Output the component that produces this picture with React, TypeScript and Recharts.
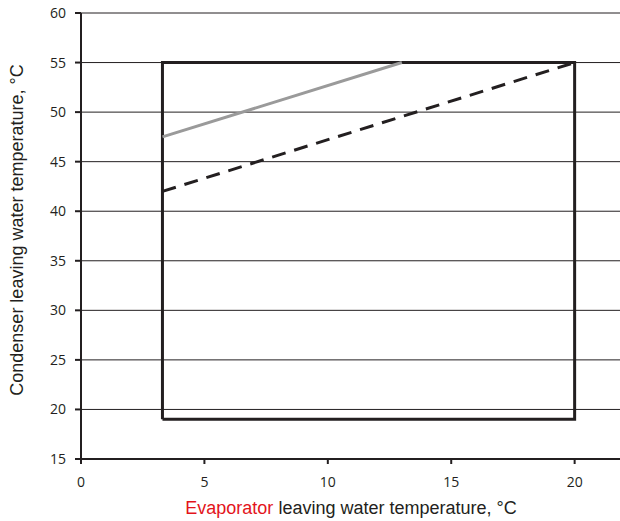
import React from "react";
import {
  ComposedChart,
  Line,
  XAxis,
  YAxis,
  CartesianGrid,
} from "recharts";

// operating envelope (closed outline)
const envelopeX = [3.3, 3.3, 20, 20, 3.3];
const envelopeY = [19, 55, 55, 19, 19];

// grey limit line
const greyX = [3.3, 13];
const greyY = [47.5, 55];

// dashed limit line
const dashedX = [3.3, 20];
const dashedY = [42, 55];

const xTicks = [0, 5, 10, 15, 20];
const yTicks = [15, 20, 25, 30, 35, 40, 45, 50, 55, 60];

const toPoints = (xs: number[], ys: number[]) =>
  xs.map((x, i) => ({ x, y: ys[i] }));

const envelope = toPoints(envelopeX, envelopeY);
const grey = toPoints(greyX, greyY);
const dashed = toPoints(dashedX, dashedY);

const labelFont = "'Liberation Sans', Arial, sans-serif";
const tickFont = "'Open Sans', 'Noto Sans', sans-serif";

const XLabel = () => (
  <text
    x={351}
    y={514}
    textAnchor="middle"
    fontFamily={labelFont}
    fontSize={18}
    fill="#231f20"
  >
    <tspan fill="#e3141b">Evaporator</tspan>
    <tspan> leaving water temperature, °C</tspan>
  </text>
);

const YLabel = () => {
  const x = 23;
  const cy = 230;
  return (
    <text
      x={x}
      y={cy}
      transform={`rotate(-90, ${x}, ${cy})`}
      textAnchor="middle"
      fontFamily={labelFont}
      fontSize={18}
      fill="#231f20"
    >
      Condenser leaving water temperature, °C
    </text>
  );
};

const App: React.FC = () => {
  return (
    <div
      style={{
        position: "fixed",
        top: 0,
        left: 0,
        width: 620,
        height: 521,
        overflow: "hidden",
        background: "#fff",
      }}
    >
      <ComposedChart
        width={624}
        height={521}
        margin={{ top: 13, right: 0, bottom: 0, left: 0 }}
      >
        <CartesianGrid
          horizontal
          vertical={false}
          stroke="#231f20"
          strokeWidth={1}
          horizontalValues={yTicks}
        />
        <XAxis
          type="number"
          dataKey="x"
          domain={[0, 22]}
          ticks={xTicks}
          allowDataOverflow
          height={62}
          tickSize={5}
          tickMargin={13}
          stroke="#231f20"
          strokeWidth={2}
          tick={{ fill: "#231f20", fontSize: 14, fontFamily: tickFont }}
          label={<XLabel />}
        />
        <YAxis
          type="number"
          dataKey="y"
          domain={[15, 60]}
          ticks={yTicks}
          width={81}
          tickSize={6}
          tickMargin={9}
          stroke="#231f20"
          strokeWidth={2}
          tick={{ fill: "#231f20", fontSize: 14, fontFamily: tickFont }}
          label={<YLabel />}
        />
        <Line
          data={envelope}
          dataKey="y"
          type="linear"
          stroke="#231f20"
          strokeWidth={3}
          dot={false}
          activeDot={false}
          strokeLinejoin="miter"
          isAnimationActive={false}
        />
        <Line
          data={grey}
          dataKey="y"
          type="linear"
          stroke="#9a9a9a"
          strokeWidth={3}
          dot={false}
          activeDot={false}
          isAnimationActive={false}
        />
        <Line
          data={dashed}
          dataKey="y"
          type="linear"
          stroke="#231f20"
          strokeWidth={3}
          strokeDasharray="14 9"
          dot={false}
          activeDot={false}
          isAnimationActive={false}
        />
      </ComposedChart>
    </div>
  );
};

export default App;
